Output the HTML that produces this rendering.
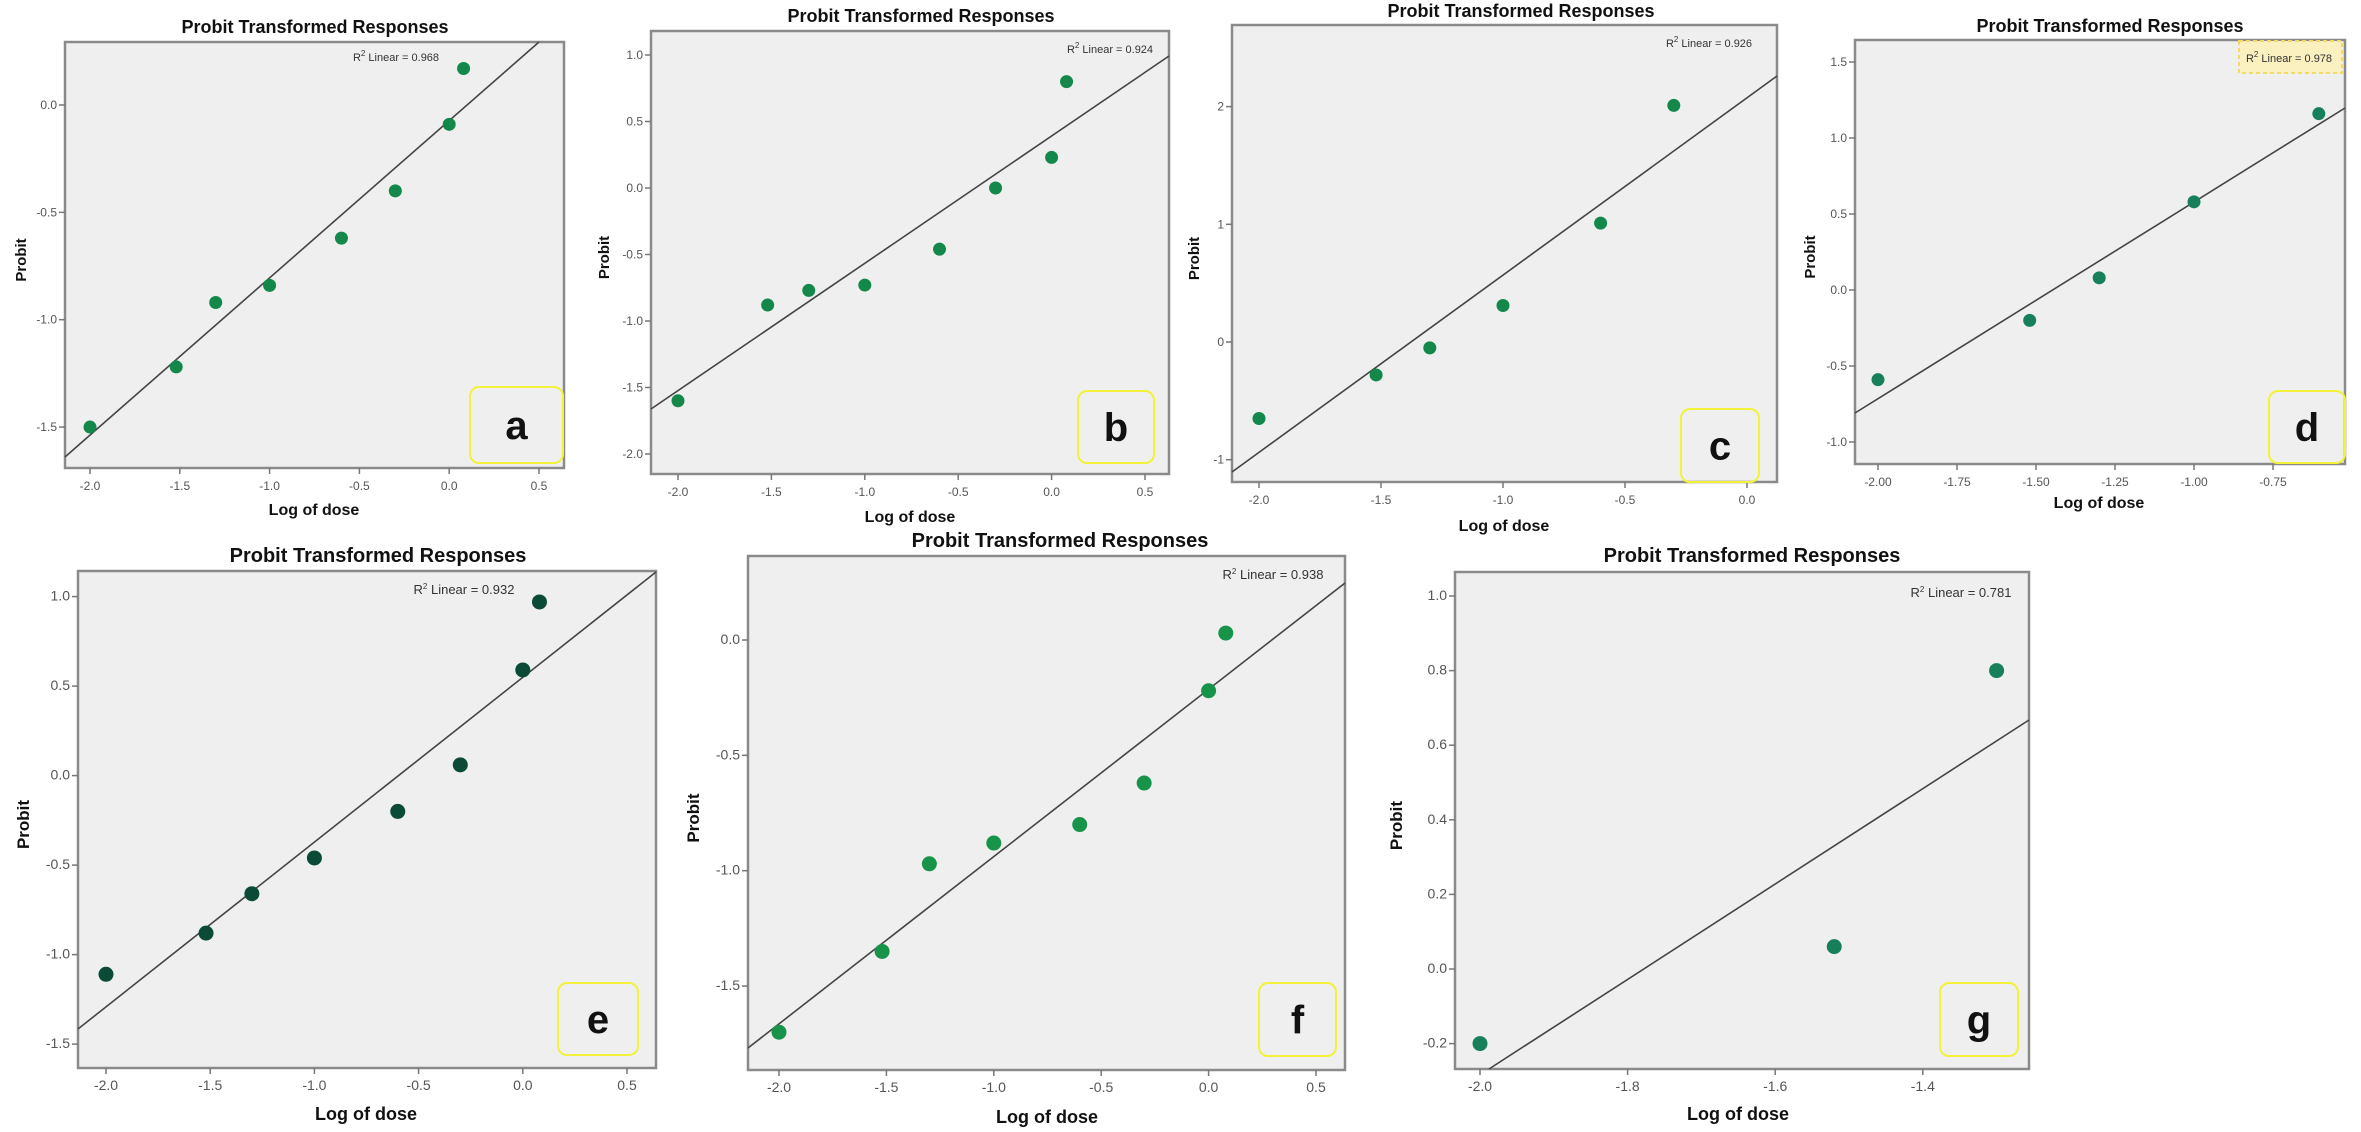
<!DOCTYPE html>
<html><head><meta charset="utf-8"><style>
html,body{margin:0;padding:0;background:#fff;}
svg{display:block;font-family:"Liberation Sans",Arial,sans-serif;}
</style></head><body>
<svg id="s" width="2361" height="1132" viewBox="0 0 2361 1132" xmlns="http://www.w3.org/2000/svg">
<rect width="2361" height="1132" fill="#fff"/>
<text x="315" y="33" font-size="18" font-weight="bold" text-anchor="middle" fill="#111">Probit Transformed Responses</text>
<text x="921" y="22" font-size="18" font-weight="bold" text-anchor="middle" fill="#111">Probit Transformed Responses</text>
<text x="1521" y="17" font-size="18" font-weight="bold" text-anchor="middle" fill="#111">Probit Transformed Responses</text>
<text x="2110" y="32" font-size="18" font-weight="bold" text-anchor="middle" fill="#111">Probit Transformed Responses</text>
<text x="378" y="562" font-size="20" font-weight="bold" text-anchor="middle" fill="#111">Probit Transformed Responses</text>
<text x="1060" y="547" font-size="20" font-weight="bold" text-anchor="middle" fill="#111">Probit Transformed Responses</text>
<text x="1752" y="562" font-size="20" font-weight="bold" text-anchor="middle" fill="#111">Probit Transformed Responses</text>
<text x="314" y="515" font-size="16" font-weight="bold" text-anchor="middle" fill="#111">Log of dose</text>
<text x="910" y="522" font-size="16" font-weight="bold" text-anchor="middle" fill="#111">Log of dose</text>
<text x="1504" y="531" font-size="16" font-weight="bold" text-anchor="middle" fill="#111">Log of dose</text>
<text x="2099" y="508" font-size="16" font-weight="bold" text-anchor="middle" fill="#111">Log of dose</text>
<text x="366" y="1120" font-size="18" font-weight="bold" text-anchor="middle" fill="#111">Log of dose</text>
<text x="1047" y="1123" font-size="18" font-weight="bold" text-anchor="middle" fill="#111">Log of dose</text>
<text x="1738" y="1120" font-size="18" font-weight="bold" text-anchor="middle" fill="#111">Log of dose</text>
</svg>
<script>
var NS="http://www.w3.org/2000/svg",S=document.getElementById("s");
function el(t,a,txt){var e=document.createElementNS(NS,t);for(var k in a)e.setAttribute(k,a[k]);if(txt!=null)e.textContent=txt;S.appendChild(e);return e;}
var P=[
{b:[65,564,42,468],xa:-2,xp:90,sx:179.6,ya:0,yp:105,sy:214.7,line:[65,457,539,42],
 xt:[[-2,"-2.0"],[-1.5,"-1.5"],[-1,"-1.0"],[-0.5,"-0.5"],[0,"0.0"],[0.5,"0.5"]],
 yt:[[0,"0.0"],[-0.5,"-0.5"],[-1,"-1.0"],[-1.5,"-1.5"]],
 pts:[[-2,-1.5],[-1.52,-1.22],[-1.3,-0.92],[-1,-0.84],[-0.6,-0.62],[-0.3,-0.4],[0,-0.09],[0.08,0.17]],
 col:"#13884a",r2:[396,57,"0.968"],lab:[470,563,387,463,"a"],py:21},
{b:[651,1169,31,474],xa:-2,xp:678,sx:186.8,ya:1,yp:55,sy:133,line:[651,409,1169,56],
 xt:[[-2,"-2.0"],[-1.5,"-1.5"],[-1,"-1.0"],[-0.5,"-0.5"],[0,"0.0"],[0.5,"0.5"]],
 yt:[[1,"1.0"],[0.5,"0.5"],[0,"0.0"],[-0.5,"-0.5"],[-1,"-1.0"],[-1.5,"-1.5"],[-2,"-2.0"]],
 pts:[[-2,-1.6],[-1.52,-0.88],[-1.3,-0.77],[-1,-0.73],[-0.6,-0.46],[-0.3,0],[0,0.23],[0.08,0.8]],
 col:"#13884a",r2:[1110,49,"0.924"],lab:[1078,1154,391,463,"b"],py:604},
{b:[1232,1777,25,482],xa:-2,xp:1259,sx:244,ya:0,yp:342,sy:117.7,line:[1232,472,1777,76],
 xt:[[-2,"-2.0"],[-1.5,"-1.5"],[-1,"-1.0"],[-0.5,"-0.5"],[0,"0.0"]],
 yt:[[2,"2"],[1,"1"],[0,"0"],[-1,"-1"]],
 pts:[[-2,-0.65],[-1.52,-0.28],[-1.3,-0.05],[-1,0.31],[-0.6,1.01],[-0.3,2.01]],
 col:"#13884a",r2:[1709,43,"0.926"],lab:[1681,1759,409,482,"c"],py:1194},
{b:[1855,2345,40,464],xa:-2,xp:1878,sx:316,ya:0,yp:290,sy:152,line:[1855,413,2345,108],
 xt:[[-2,"-2.00"],[-1.75,"-1.75"],[-1.5,"-1.50"],[-1.25,"-1.25"],[-1,"-1.00"],[-0.75,"-0.75"]],
 yt:[[1.5,"1.5"],[1,"1.0"],[0.5,"0.5"],[0,"0.0"],[-0.5,"-0.5"],[-1,"-1.0"]],
 pts:[[-2,-0.59],[-1.52,-0.2],[-1.3,0.08],[-1,0.58],[-0.605,1.16]],
 col:"#17805a",r2:[2289,58,"0.978"],lab:[2269,2345,391,463,"d"],py:1810,dot:1},
{b:[78,656,571,1068],xa:-2,xp:106,sx:208.4,ya:0,yp:775.6,sy:179,line:[78,1029,656,572],
 xt:[[-2,"-2.0"],[-1.5,"-1.5"],[-1,"-1.0"],[-0.5,"-0.5"],[0,"0.0"],[0.5,"0.5"]],
 yt:[[1,"1.0"],[0.5,"0.5"],[0,"0.0"],[-0.5,"-0.5"],[-1,"-1.0"],[-1.5,"-1.5"]],
 pts:[[-2,-1.11],[-1.52,-0.88],[-1.3,-0.66],[-1,-0.46],[-0.6,-0.2],[-0.3,0.06],[0,0.59],[0.08,0.97]],
 col:"#0b4a37",r2:[464,590,"0.932"],lab:[558,638,983,1055,"e"],py:24},
{b:[748,1345,556,1070],xa:-2,xp:779,sx:214.8,ya:0,yp:640,sy:230.7,line:[748,1048,1345,583],
 xt:[[-2,"-2.0"],[-1.5,"-1.5"],[-1,"-1.0"],[-0.5,"-0.5"],[0,"0.0"],[0.5,"0.5"]],
 yt:[[0,"0.0"],[-0.5,"-0.5"],[-1,"-1.0"],[-1.5,"-1.5"]],
 pts:[[-2,-1.7],[-1.52,-1.35],[-1.3,-0.97],[-1,-0.88],[-0.6,-0.8],[-0.3,-0.62],[0,-0.22],[0.08,0.03]],
 col:"#17944a",r2:[1273,575,"0.938"],lab:[1259,1336,983,1056,"f"],py:694},
{b:[1455,2029,572,1069],xa:-2,xp:1480,sx:738,ya:0,yp:969,sy:373,line:[1489,1069,2029,720],
 xt:[[-2,"-2.0"],[-1.8,"-1.8"],[-1.6,"-1.6"],[-1.4,"-1.4"]],
 yt:[[1,"1.0"],[0.8,"0.8"],[0.6,"0.6"],[0.4,"0.4"],[0.2,"0.2"],[0,"0.0"],[-0.2,"-0.2"]],
 pts:[[-2,-0.2],[-1.52,0.06],[-1.3,0.8]],
 col:"#17805a",r2:[1961,593,"0.781"],lab:[1940,2018,983,1056,"g"],py:1397}
];
P.forEach(function(p){
 var b=p.b,X=function(v){return p.xp+(v-p.xa)*p.sx},Y=function(v){return p.yp-(v-p.ya)*p.sy};
 var big=b[3]-b[2]>480;
 el("rect",{x:b[0],y:b[2],width:b[1]-b[0],height:b[3]-b[2],fill:"#efefef",stroke:"#8a8a8a","stroke-width":2.5});
 p.xt.forEach(function(t){var x=X(t[0]);el("line",{x1:x,y1:b[3],x2:x,y2:b[3]+6,stroke:"#777","stroke-width":1.5});
  el("text",{x:x,y:b[3]+22,"font-size":big?14:12,"text-anchor":"middle",fill:"#555"},t[1]);});
 p.yt.forEach(function(t){var y=Y(t[0]);el("line",{x1:b[0]-6,y1:y,x2:b[0],y2:y,stroke:"#777","stroke-width":1.5});
  el("text",{x:b[0]-8,y:y+4,"font-size":big?14:12,"text-anchor":"end",fill:"#555"},t[1]);});
 el("line",{x1:p.line[0],y1:p.line[1],x2:p.line[2],y2:p.line[3],stroke:"#444","stroke-width":1.6});
 p.pts.forEach(function(q){el("circle",{cx:X(q[0]),cy:Y(q[1]),r:big?7.5:6.5,fill:p.col});});
 if(p.dot)el("rect",{x:2239,y:41,width:103,height:32,fill:"#fbf0c0",stroke:"#f3d96a","stroke-width":2,"stroke-dasharray":"4 3"});
 var t=el("text",{x:p.r2[0],y:p.r2[1]+4,"font-size":big?13:11,"text-anchor":"middle",fill:"#333"});
 t.appendChild(document.createTextNode("R"));
 var sp=document.createElementNS(NS,"tspan");sp.setAttribute("dy","-5");sp.setAttribute("font-size","8");sp.textContent="2";t.appendChild(sp);
 var sp2=document.createElementNS(NS,"tspan");sp2.setAttribute("dy","5");sp2.textContent=" Linear = "+p.r2[2];t.appendChild(sp2);
 var l=p.lab;
 el("rect",{x:l[0],y:l[2],width:l[1]-l[0],height:l[3]-l[2],rx:9,fill:"none",stroke:"#f2f23a","stroke-width":2});
 el("text",{x:(l[0]+l[1])/2,y:(l[2]+l[3])/2+14,"font-size":40,"font-weight":"bold","text-anchor":"middle",fill:"#111"},l[4]);
 var cy=(b[2]+b[3])/2;
 el("text",{x:p.py,y:cy,"font-size":big?17:15,"font-weight":"bold","text-anchor":"middle",fill:"#111",transform:"rotate(-90 "+(p.py+5)+" "+cy+")"},"Probit");
});
</script>
</body></html>
